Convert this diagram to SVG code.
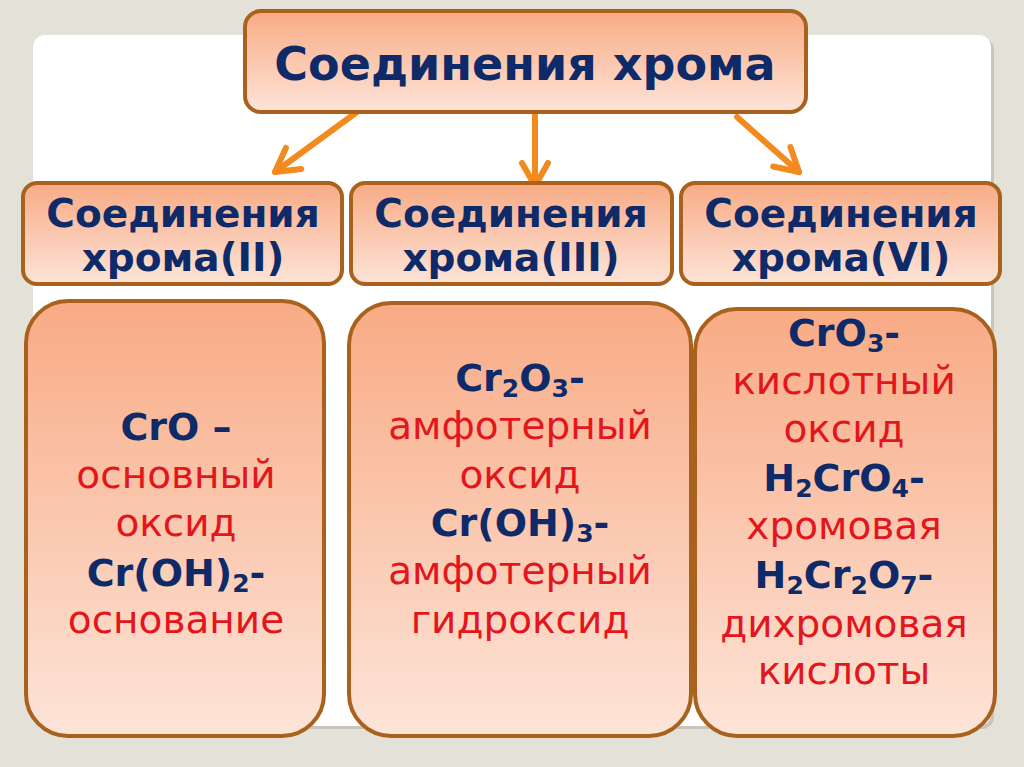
<svg xmlns="http://www.w3.org/2000/svg" width="1024" height="767" viewBox="0 0 1024 767">
  <defs>
    <linearGradient id="peach" x1="0" y1="0" x2="0" y2="1">
      <stop offset="0" stop-color="#f8ab85"/>
      <stop offset="1" stop-color="#fde4d8"/>
    </linearGradient>
    <marker id="chev" markerUnits="userSpaceOnUse" markerWidth="40" markerHeight="40" viewBox="-30 -20 40 40" refX="0" refY="0" orient="auto">
      <path d="M -23 -13 L 0 0 L -23 13" fill="none" stroke="#f28a1e" stroke-width="6" stroke-linecap="round" stroke-linejoin="round"/>
    </marker>
  </defs>
  <style>
    .box { fill: url(#peach); stroke: #a9621d; stroke-width: 4; }
    .hdr { font-family: "DejaVu Sans", Verdana, sans-serif; font-weight: bold; fill: #0f2a68; text-anchor: middle; }
    .f { font-family: "DejaVu Sans", Verdana, sans-serif; font-weight: bold; fill: #0f2a68; text-anchor: middle; font-size: 38px; }
    .r { font-family: "DejaVu Sans", Verdana, sans-serif; fill: #e2161c; text-anchor: middle; font-size: 39px; }
    .sub { font-size: 25px; }
    .arr { fill: none; stroke: #f28a1e; stroke-width: 6; stroke-linecap: round; marker-end: url(#chev); }
  </style>

  <rect width="1024" height="767" fill="#e4e1d8"/>
  <rect x="36" y="38" width="958" height="691" rx="12" fill="#c9c5bc"/>
  <rect x="33" y="35" width="958" height="691" rx="12" fill="#ffffff"/>

  <g id="connectors">
    <line class="arr" x1="357" y1="112" x2="275" y2="172"/>
    <line class="arr" x1="535" y1="113" x2="535" y2="186"/>
    <line class="arr" x1="737" y1="117" x2="799" y2="172"/>
  </g>

  <g id="root">
    <rect class="box" x="245" y="11" width="561" height="101" rx="16"/>
    <text class="hdr" x="525" y="80" font-size="46">Соединения хрома</text>
  </g>

  <g id="cr2">
    <rect class="box" x="23" y="183" width="319" height="101" rx="14"/>
    <text class="hdr" x="183" y="227" font-size="39">Соединения</text>
    <text class="hdr" x="183" y="271" font-size="39">хрома(II)</text>
  </g>
  <g id="cr3">
    <rect class="box" x="351" y="183" width="321" height="101" rx="14"/>
    <text class="hdr" x="511" y="227" font-size="39">Соединения</text>
    <text class="hdr" x="511" y="271" font-size="39">хрома(III)</text>
  </g>
  <g id="cr6">
    <rect class="box" x="681" y="183" width="319" height="101" rx="14"/>
    <text class="hdr" x="841" y="227" font-size="39">Соединения</text>
    <text class="hdr" x="841" y="271" font-size="39">хрома(VI)</text>
  </g>

  <g id="detail2">
    <rect class="box" x="26" y="301" width="298" height="435" rx="42"/>
    <text class="f" x="176" y="440">CrO –</text>
    <text class="r" x="176" y="488">основный</text>
    <text class="r" x="176" y="536">оксид</text>
    <text class="f" x="176" y="586">Cr(OH)<tspan class="sub" dy="6">2</tspan><tspan dy="-6">-</tspan></text>
    <text class="r" x="176" y="633">основание</text>
  </g>

  <g id="detail3">
    <rect class="box" x="349" y="303" width="342" height="433" rx="42"/>
    <text class="f" x="520" y="391">Cr<tspan class="sub" dy="6">2</tspan><tspan dy="-6">O</tspan><tspan class="sub" dy="6">3</tspan><tspan dy="-6">-</tspan></text>
    <text class="r" x="520" y="439">амфотерный</text>
    <text class="r" x="520" y="488">оксид</text>
    <text class="f" x="520" y="536">Cr(OH)<tspan class="sub" dy="6">3</tspan><tspan dy="-6">-</tspan></text>
    <text class="r" x="520" y="584">амфотерный</text>
    <text class="r" x="520" y="633">гидроксид</text>
  </g>

  <g id="detail6">
    <rect class="box" x="695" y="309" width="300" height="427" rx="42"/>
    <text class="f" x="844" y="346">CrO<tspan class="sub" dy="6">3</tspan><tspan dy="-6">-</tspan></text>
    <text class="r" x="844" y="394">кислотный</text>
    <text class="r" x="844" y="442">оксид</text>
    <text class="f" x="844" y="491">H<tspan class="sub" dy="6">2</tspan><tspan dy="-6">CrO</tspan><tspan class="sub" dy="6">4</tspan><tspan dy="-6">-</tspan></text>
    <text class="r" x="844" y="539">хромовая</text>
    <text class="f" x="844" y="588">H<tspan class="sub" dy="6">2</tspan><tspan dy="-6">Cr</tspan><tspan class="sub" dy="6">2</tspan><tspan dy="-6">O</tspan><tspan class="sub" dy="6">7</tspan><tspan dy="-6">-</tspan></text>
    <text class="r" x="844" y="637">дихромовая</text>
    <text class="r" x="844" y="684">кислоты</text>
  </g>
</svg>
